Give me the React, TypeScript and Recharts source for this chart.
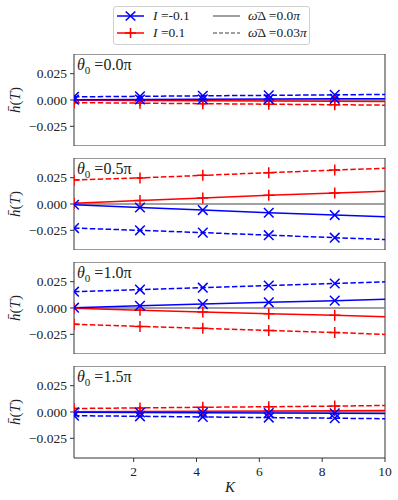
import React from "react";
import {
  LineChart,
  Line,
  XAxis,
  YAxis,
  ReferenceLine,
  ReferenceArea,
} from "recharts";

// K values (first five carry markers, last point is the line end)
const kValues = [0.1, 2.2, 4.2, 6.3, 8.4, 10];
const xTicks = [2, 4, 6, 8, 10];
const yTicks = [-0.025, 0, 0.025];

// theta0 = 0.0 pi
const blueSolid00 = [0.0003, 0.0005, 0.0007, 0.0009, 0.0011, 0.0013];
const blueDashed00 = [0.003, 0.0035, 0.004, 0.0044, 0.0049, 0.0053];
const redSolid00 = [-0.0003, -0.0005, -0.0008, -0.001, -0.0013, -0.0015];
const redDashed00 = [-0.0025, -0.003, -0.0035, -0.004, -0.0045, -0.0049];

// theta0 = 0.5 pi
const blueSolid05 = [-0.0007, -0.0033, -0.0058, -0.0083, -0.0105, -0.0122];
const blueDashed05 = [-0.0229, -0.025, -0.0272, -0.0296, -0.032, -0.0338];
const redSolid05 = [0.0007, 0.0033, 0.0058, 0.0083, 0.0105, 0.0122];
const redDashed05 = [0.0228, 0.0248, 0.0272, 0.0298, 0.0322, 0.034];

// theta0 = 1.0 pi
const blueSolid10 = [0.0003, 0.0021, 0.0037, 0.0054, 0.007, 0.0082];
const blueDashed10 = [0.0155, 0.0175, 0.0193, 0.0214, 0.0233, 0.0249];
const redSolid10 = [-0.0003, -0.0021, -0.0037, -0.0054, -0.007, -0.0082];
const redDashed10 = [-0.0155, -0.0175, -0.0193, -0.0214, -0.0233, -0.0251];

// theta0 = 1.5 pi
const blueSolid15 = [-0.0003, -0.0005, -0.0008, -0.001, -0.0012, -0.0014];
const blueDashed15 = [-0.0035, -0.0041, -0.0047, -0.0053, -0.0059, -0.0064];
const redSolid15 = [0.0003, 0.0005, 0.0008, 0.001, 0.0012, 0.0014];
const redDashed15 = [0.0033, 0.0039, 0.0045, 0.005, 0.0056, 0.0062];

const thetaLabels = ["0.0π", "0.5π", "1.0π", "1.5π"];
const panelTops = [54, 158, 262, 366];

const BLUE = "#0000ff";
const RED = "#ff0000";
const GRAY = "#808080";
const FONT = "'Liberation Serif', serif";
const PLOT_H = 92;
const DASH = "5.5 2.4";

type Row = { k: number; bs: number; bd: number; rs: number; rd: number };

function buildRows(bs: number[], bd: number[], rs: number[], rd: number[]): Row[] {
  return kValues.map((k, i) => ({ k, bs: bs[i], bd: bd[i], rs: rs[i], rd: rd[i] }));
}

const panels = [
  buildRows(blueSolid00, blueDashed00, redSolid00, redDashed00),
  buildRows(blueSolid05, blueDashed05, redSolid05, redDashed05),
  buildRows(blueSolid10, blueDashed10, redSolid10, redDashed10),
  buildRows(blueSolid15, blueDashed15, redSolid15, redDashed15),
];

function fmtY(v: number) {
  if (v < 0) return "\u2212" + Math.abs(v).toFixed(3);
  return v.toFixed(3);
}

const crossDot = (props: any) => {
  const { cx, cy, index } = props;
  if (index > 4 || cx == null) return <g key={`x${index}`} />;
  const r = 4.8;
  return (
    <path
      key={`x${index}`}
      d={`M${cx - r},${cy - r}L${cx + r},${cy + r}M${cx - r},${cy + r}L${cx + r},${cy - r}`}
      stroke={BLUE}
      strokeWidth={1.5}
      fill="none"
    />
  );
};

const plusDot = (props: any) => {
  const { cx, cy, index } = props;
  if (index > 4 || cx == null) return <g key={`p${index}`} />;
  const r = 5.5;
  return (
    <path
      key={`p${index}`}
      d={`M${cx - r},${cy}L${cx + r},${cy}M${cx},${cy - r}L${cx},${cy + r}`}
      stroke={RED}
      strokeWidth={1.5}
      fill="none"
    />
  );
};

function Panel({ rows, showX }: { rows: Row[]; showX: boolean }) {
  return (
    <LineChart
      width={398}
      height={PLOT_H + (showX ? 24 : 0)}
      data={rows}
      margin={{ top: 0, right: 13, bottom: 0, left: 0 }}
    >
      <XAxis
        dataKey="k"
        type="number"
        domain={[0.1, 10]}
        ticks={xTicks}
        allowDataOverflow
        hide={!showX}
        axisLine={false}
        tickLine={{ stroke: "#333" }}
        tickSize={4}
        tickMargin={4}
        height={24}
        tick={{ fontSize: 13.5, fill: "#222", fontFamily: FONT }}
      />
      <YAxis
        type="number"
        domain={[-0.0437, 0.0437]}
        ticks={yTicks}
        allowDataOverflow
        width={74}
        axisLine={false}
        tickLine={{ stroke: "#333" }}
        tickSize={4}
        tickMargin={3}
        tickFormatter={fmtY}
        tick={{ fontSize: 13.5, fill: "#222", fontFamily: FONT }}
      />
      <ReferenceLine y={0} stroke={GRAY} strokeWidth={1.3} />
      <Line dataKey="rs" stroke={RED} strokeWidth={1.5} dot={plusDot} isAnimationActive={false} />
      <Line dataKey="rd" stroke={RED} strokeWidth={1.5} strokeDasharray={DASH} dot={plusDot} isAnimationActive={false} />
      <Line dataKey="bs" stroke={BLUE} strokeWidth={1.5} dot={crossDot} isAnimationActive={false} />
      <Line dataKey="bd" stroke={BLUE} strokeWidth={1.5} strokeDasharray={DASH} dot={crossDot} isAnimationActive={false} />
      <ReferenceArea
        x1={0.1}
        x2={10}
        y1={-0.0437}
        y2={0.0437}
        fill="none"
        fillOpacity={0}
        stroke="#333"
        strokeWidth={1}
        ifOverflow="extendDomain"
      />
    </LineChart>
  );
}

function LegendSample({ color, dash, marker }: { color: string; dash?: boolean; marker?: "x" | "+" }) {
  return (
    <svg width={27} height={10} style={{ display: "block" }}>
      <line x1={0} y1={5} x2={27} y2={5} stroke={color} strokeWidth={1.5} strokeDasharray={dash ? "4 2" : undefined} />
      {marker === "x" && <path d="M8.7,0.5L18.3,9.5M8.7,9.5L18.3,0.5" stroke={color} strokeWidth={1.5} />}
      {marker === "+" && <path d="M8,5L19,5M13.5,0L13.5,10" stroke={color} strokeWidth={1.5} />}
    </svg>
  );
}

const textStyle: React.CSSProperties = {
  position: "absolute",
  fontFamily: FONT,
  fontSize: 13.5,
  color: "#222",
  whiteSpace: "nowrap",
  lineHeight: "14px",
};

export default function App() {
  return (
    <div style={{ position: "absolute", left: 0, top: 0, width: 398, height: 500, background: "#fff", fontFamily: FONT }}>
      {/* legend */}
      <div
        style={{
          position: "absolute",
          left: 113,
          top: 6,
          width: 197,
          height: 39,
          border: "1px solid #d0d0d0",
          borderRadius: 3,
          boxSizing: "border-box",
        }}
      />
      <div style={{ position: "absolute", left: 117, top: 11 }}>
        <LegendSample color={BLUE} marker="x" />
      </div>
      <div style={{ ...textStyle, left: 153, top: 9 }}>
        <i>I</i> =-0.1
      </div>
      <div style={{ position: "absolute", left: 117, top: 28 }}>
        <LegendSample color={RED} marker="+" />
      </div>
      <div style={{ ...textStyle, left: 153, top: 26 }}>
        <i>I</i> =0.1
      </div>
      <div style={{ position: "absolute", left: 213, top: 11 }}>
        <LegendSample color={GRAY} />
      </div>
      <div style={{ ...textStyle, left: 248, top: 9 }}>
        <i>{"ω\u0304"}</i>Δ =0.0<i>π</i>
      </div>
      <div style={{ position: "absolute", left: 213, top: 28 }}>
        <LegendSample color={GRAY} dash />
      </div>
      <div style={{ ...textStyle, left: 248, top: 26 }}>
        <i>{"ω\u0304"}</i>Δ =0.03<i>π</i>
      </div>

      {panels.map((rows, i) => (
        <React.Fragment key={i}>
          <div style={{ position: "absolute", left: 0, top: panelTops[i] }}>
            <Panel rows={rows} showX={i === 3} />
          </div>
          <div style={{ ...textStyle, fontSize: 16, left: 77, top: panelTops[i] + 3, lineHeight: "16px" }}>
            <i>θ</i>
            <sub style={{ fontSize: 11 }}>0</sub> ={thetaLabels[i]}
          </div>
          <div
            style={{
              ...textStyle,
              fontSize: 15,
              left: 15,
              top: panelTops[i] + PLOT_H / 2,
              transform: "translate(-50%, -50%) rotate(-90deg)",
            }}
          >
            <i>{"h\u0304"}</i>(<i>T</i>)
          </div>
        </React.Fragment>
      ))}

      <div style={{ ...textStyle, fontSize: 15, left: 225, top: 480 }}>
        <i>K</i>
      </div>
    </div>
  );
}
